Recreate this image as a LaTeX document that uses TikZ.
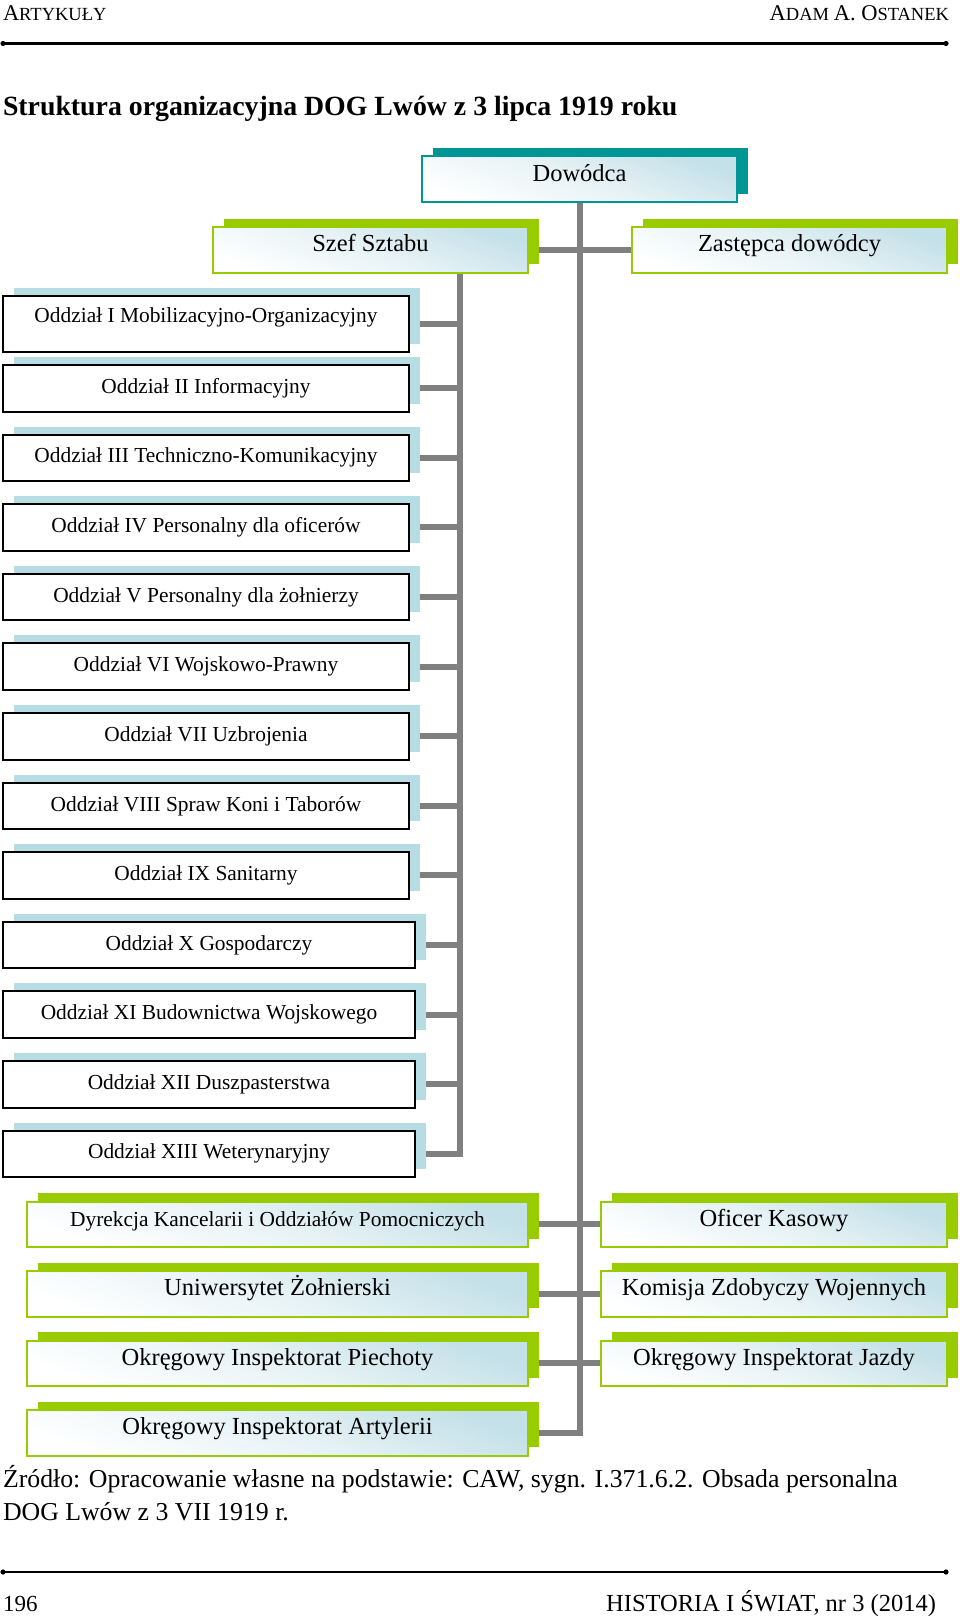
\documentclass[tikz,border=0pt]{standalone}
\usepackage{fontspec}
\setmainfont{Liberation Serif}
\usetikzlibrary{shadows,backgrounds}
\definecolor{grn}{RGB}{153,204,0}
\definecolor{tealc}{RGB}{0,150,150}
\definecolor{lblue}{RGB}{183,221,228}
\definecolor{shadeblue}{RGB}{196,224,232}
\definecolor{cgray}{RGB}{128,128,128}
\newcommand{\fsz}[1]{\fontsize{#1}{#1}\selectfont}
\begin{document}
\begin{tikzpicture}[x=1pt,y=-1pt,
  txt/.style={inner sep=0pt, outer sep=0pt},
  oddbox/.style={draw=black, line width=2pt, fill=white, anchor=north west, inner sep=0pt,
    minimum height=46.5pt, minimum width=406pt,
    general shadow={fill=lblue, shadow xshift=10.5pt, shadow yshift=8pt},
    font=\fsz{21.4}},
  grnbox/.style={draw=grn, line width=2pt, anchor=north west, inner sep=0pt,
    minimum height=45.5pt, text height=17pt, text depth=13pt,
    general shadow={fill=grn, shadow xshift=11pt, shadow yshift=8.5pt},
    top color=shadeblue, bottom color=white, middle color=white!60!shadeblue, shading angle=-20,
    font=\fsz{24.5}},
  dowbox/.style={grnbox, draw=tealc,
    general shadow={fill=tealc, shadow xshift=11pt, shadow yshift=8.5pt}},
  link/.style={draw=cgray, line width=6pt}
]
\useasboundingbox (0,0) rectangle (960,1620);

% header
\node[txt, anchor=base west] (hl) at (3,20) {\fsz{22.5}A\fsz{18.5}RTYKUŁY};
\node[txt, anchor=base east] (hr) at (949,20) {\fsz{22.5}A\fsz{18.5}DAM \fsz{22.5}A. O\fsz{18.5}STANEK};
\draw[line width=2.2pt] (3,43.5) -- (946,43.5);
\fill (3,43.5) circle (2.6pt) (946,43.5) circle (2.6pt);

% title
\node[txt, anchor=base west] (title) at (3,115.5) {\bfseries\fsz{27.8}Struktura organizacyjna DOG Lwów z 3 lipca 1919 roku};

% top boxes
\node[dowbox, minimum width=315pt, minimum height=46pt] (dow) at (421,155) {Dowódca};
\node[grnbox, minimum width=315pt] (szef) at (212,226) {Szef Sztabu};
\node[grnbox, minimum width=315pt] (zast) at (631,226) {Zastępca dowódcy};

% Oddzialy
\node[oddbox, minimum height=56pt, text height=15pt, text depth=19pt] (o1) at (2,295) {Oddział I Mobilizacyjno-Organizacyjny};
\node[oddbox] (o2) at (2,364) {Oddział II Informacyjny};
\node[oddbox] (o3) at (2,433.6) {Oddział III Techniczno-Komunikacyjny};
\node[oddbox] (o4) at (2,503.2) {Oddział IV Personalny dla oficerów};
\node[oddbox] (o5) at (2,572.8) {Oddział V Personalny dla żołnierzy};
\node[oddbox] (o6) at (2,642.4) {Oddział VI Wojskowo-Prawny};
\node[oddbox] (o7) at (2,712) {Oddział VII Uzbrojenia};
\node[oddbox] (o8) at (2,781.6) {Oddział VIII Spraw Koni i Taborów};
\node[oddbox] (o9) at (2,851.2) {Oddział IX Sanitarny};
\node[oddbox, minimum width=412pt] (o10) at (2,920.8) {Oddział X Gospodarczy};
\node[oddbox, minimum width=412pt] (o11) at (2,990.4) {Oddział XI Budownictwa Wojskowego};
\node[oddbox, minimum width=412pt] (o12) at (2,1060) {Oddział XII Duszpasterstwa};
\node[oddbox, minimum width=412pt] (o13) at (2,1129.6) {Oddział XIII Weterynaryjny};

% bottom green boxes
\node[grnbox, minimum width=501pt, font=\fsz{21.4}] (dyr) at (26,1200.7) {Dyrekcja Kancelarii i Oddziałów Pomocniczych};
\node[grnbox, minimum width=501pt] (uni) at (26,1270.2) {Uniwersytet Żołnierski};
\node[grnbox, minimum width=501pt] (pie) at (26,1339.7) {Okręgowy Inspektorat Piechoty};
\node[grnbox, minimum width=501pt] (art) at (26,1409.2) {Okręgowy Inspektorat Artylerii};
\node[grnbox, minimum width=346pt] (ofc) at (600,1200.7) {Oficer Kasowy};
\node[grnbox, minimum width=346pt] (kom) at (600,1270.2) {Komisja Zdobyczy Wojennych};
\node[grnbox, minimum width=346pt] (jaz) at (600,1339.7) {Okręgowy Inspektorat Jazdy};

\coordinate (sb) at (460,271);

\begin{pgfonlayer}{background}
\draw[link] (dow.south) |- (art.east);
\draw[link] (szef.east) -- (zast.west);
\draw[link] (sb) |- (o13.east);
\foreach \k in {o1,o2,o3,o4,o5,o6,o7,o8,o9,o10,o11,o12}
  \draw[link] (\k.east) -- (\k.east -| sb);
\foreach \k in {dyr,uni,pie}
  \draw[link] (\k.east) -- (\k.east -| dow.south);
\foreach \k in {ofc,kom,jaz}
  \draw[link] (\k.west) -- (\k.west -| dow.south);
\end{pgfonlayer}

% caption
\node[txt, anchor=base west, font=\fsz{25.8}] (cap1) at (3,1487) {Źródło: Opracowanie własne na podstawie: CAW, sygn. I.371.6.2. Obsada personalna};
\node[txt, anchor=base west, font=\fsz{25.8}] (cap2) at (3,1520) {DOG Lwów z 3 VII 1919 r.};

% footer
\draw[line width=2.2pt] (3,1572) -- (946,1572);
\fill (3,1572) circle (2.6pt) (946,1572) circle (2.6pt);
\node[txt, anchor=base west, font=\fsz{23}] (pg) at (3,1611) {196};
\node[txt, anchor=base east, font=\fsz{24.5}] (jr) at (936,1611) {HISTORIA I ŚWIAT, nr 3 (2014)};
\end{tikzpicture}
\end{document}
